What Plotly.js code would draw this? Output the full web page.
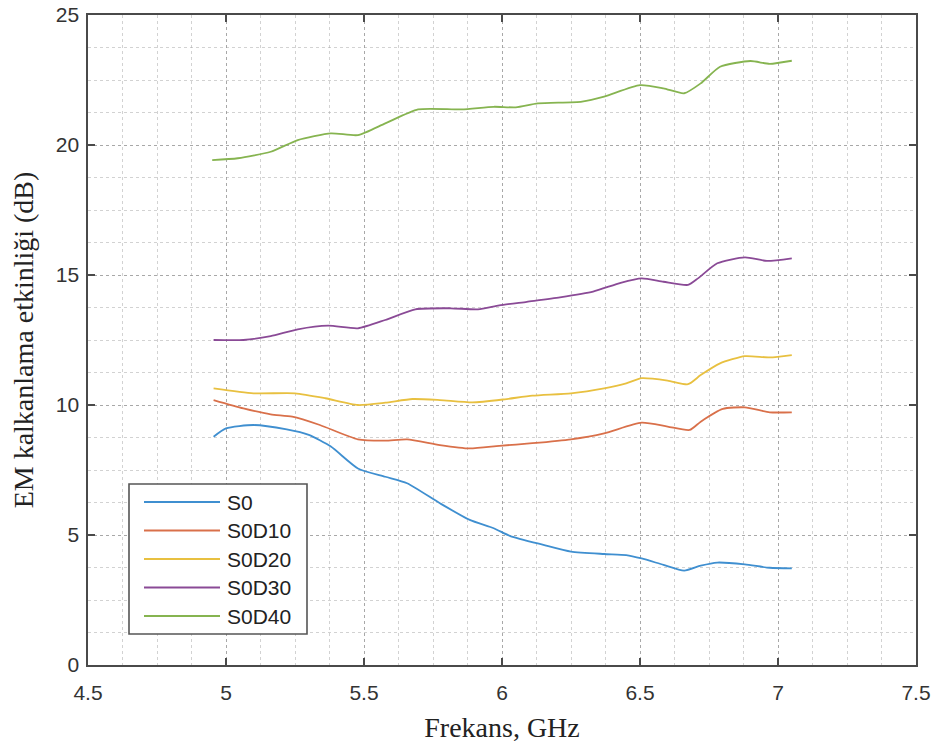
<!DOCTYPE html>
<html>
<head>
<meta charset="utf-8">
<script src="https://cdn.plot.ly/plotly-3.0.1.min.js"></script>
<style>html,body{margin:0;padding:0;background:#fff;}#chart{width:935px;height:753px;}</style>
</head>
<body>
<div id="chart"></div>
<script>
const seriesNames = ["S0", "S0D10", "S0D20", "S0D30", "S0D40"];
const seriesColors = ["#3f8fd0", "#d9704a", "#e8c040", "#8a4a96", "#86b450"];

const freqS0 = [4.955, 5.0, 5.1, 5.22, 5.3, 5.38, 5.478, 5.577, 5.656, 5.775, 5.883, 5.97, 6.03, 6.15, 6.25, 6.37, 6.45, 6.506, 6.585, 6.66, 6.72, 6.78, 6.88, 6.97, 7.05];
const valS0 = [8.78, 9.1, 9.23, 9.06, 8.85, 8.4, 7.56, 7.24, 6.99, 6.22, 5.58, 5.26, 4.96, 4.62, 4.36, 4.27, 4.23, 4.1, 3.85, 3.63, 3.82, 3.94, 3.87, 3.74, 3.72];

const freqS0D10 = [4.955, 5.063, 5.162, 5.24, 5.34, 5.478, 5.577, 5.656, 5.775, 5.883, 5.99, 6.11, 6.25, 6.37, 6.506, 6.6, 6.68, 6.72, 6.8, 6.88, 6.97, 7.05];
const valS0D10 = [10.19, 9.87, 9.64, 9.55, 9.23, 8.68, 8.63, 8.68, 8.46, 8.33, 8.43, 8.53, 8.68, 8.91, 9.32, 9.17, 9.04, 9.36, 9.85, 9.91, 9.72, 9.72];

const freqS0D20 = [4.955, 5.1, 5.25, 5.36, 5.478, 5.577, 5.676, 5.775, 5.893, 6.01, 6.11, 6.25, 6.37, 6.45, 6.506, 6.6, 6.674, 6.72, 6.79, 6.88, 6.97, 7.05];
const valS0D20 = [10.64, 10.45, 10.45, 10.26, 10.0, 10.09, 10.23, 10.19, 10.1, 10.22, 10.36, 10.45, 10.64, 10.83, 11.03, 10.94, 10.8, 11.15, 11.6, 11.88, 11.83, 11.92];

const freqS0D30 = [4.955, 5.063, 5.162, 5.26, 5.37, 5.478, 5.577, 5.686, 5.814, 5.913, 5.99, 6.09, 6.21, 6.33, 6.43, 6.506, 6.585, 6.674, 6.71, 6.78, 6.88, 6.96, 7.05];
const valS0D30 = [12.5, 12.5, 12.65, 12.91, 13.05, 12.95, 13.27, 13.68, 13.72, 13.68, 13.83, 13.97, 14.14, 14.36, 14.7, 14.87, 14.74, 14.62, 14.87, 15.45, 15.68, 15.54, 15.64];

const freqS0D40 = [4.95, 5.043, 5.162, 5.26, 5.38, 5.478, 5.577, 5.696, 5.854, 5.97, 6.05, 6.13, 6.29, 6.37, 6.5, 6.585, 6.66, 6.72, 6.79, 6.9, 6.97, 7.05];
const valS0D40 = [19.42, 19.49, 19.74, 20.19, 20.45, 20.38, 20.83, 21.37, 21.37, 21.47, 21.45, 21.6, 21.67, 21.86, 22.3, 22.18, 21.99, 22.37, 23.01, 23.23, 23.12, 23.24];

const xTicks = [4.5, 5, 5.5, 6, 6.5, 7, 7.5];
const xTickLabels = ["4.5", "5", "5.5", "6", "6.5", "7", "7.5"];
const yTicks = [0, 5, 10, 15, 20, 25];

const xs = [freqS0, freqS0D10, freqS0D20, freqS0D30, freqS0D40];
const ys = [valS0, valS0D10, valS0D20, valS0D30, valS0D40];

const W = 935, H = 753;
const M = {l: 88, r: 19, t: 15, b: 88};
const PW = W - M.l - M.r, PH = H - M.t - M.b;
const px2x = p => (p - M.l) / PW;
const py2y = p => (H - M.b - p) / PH;

const traces = seriesNames.map((n, i) => ({
  type: "scatter", mode: "lines", name: n,
  x: xs[i], y: ys[i], showlegend: false,
  line: {color: seriesColors[i], width: 1.8, shape: "spline", smoothing: 0.6}
}));

// legend (drawn in paper coordinates, MATLAB-style long sample lines)
const legBox = {x0: 129, x1: 307, y0: 484, y1: 634};
const legRowY = [502, 530.5, 559, 587.5, 616];
const shapes = [{
  type: "rect", xref: "paper", yref: "paper",
  x0: px2x(legBox.x0), x1: px2x(legBox.x1), y0: py2y(legBox.y1), y1: py2y(legBox.y0),
  line: {color: "#555", width: 1.6}, fillcolor: "#fff", layer: "above"
}];
const annotations = [];
seriesNames.forEach((n, i) => {
  shapes.push({
    type: "line", xref: "paper", yref: "paper",
    x0: px2x(144), x1: px2x(220), y0: py2y(legRowY[i]), y1: py2y(legRowY[i]),
    line: {color: seriesColors[i], width: 1.8}, layer: "above"
  });
  annotations.push({
    xref: "paper", yref: "paper", x: px2x(225), y: py2y(legRowY[i]),
    xanchor: "left", yanchor: "middle", showarrow: false, text: n,
    font: {family: "Liberation Sans, Arial, sans-serif", size: 21, color: "#222"}
  });
});

const gridCol = "rgba(140,140,140,0.6)";
const minorCol = "rgba(165,165,165,0.5)";
const axisCommon = {
  showline: true, linecolor: "#4a4a4a", linewidth: 1.6, mirror: "ticks",
  ticks: "inside", ticklen: 7, tickcolor: "#4a4a4a", tickwidth: 1.5,
  showgrid: true, gridcolor: gridCol, griddash: "dot", gridwidth: 1,
  zeroline: false,
  tickfont: {family: "Liberation Sans, Arial, sans-serif", size: 21, color: "#333"}
};

const layout = {
  width: W, height: H,
  margin: M,
  paper_bgcolor: "#fff", plot_bgcolor: "#fff",
  showlegend: false,
  shapes: shapes, annotations: annotations,
  xaxis: Object.assign({}, axisCommon, {
    range: [4.5, 7.5], tickvals: xTicks, ticktext: xTickLabels,
    ticklabelstandoff: 8,
    minor: {dtick: 0.125, tick0: 4.5, showgrid: true, gridcolor: minorCol, griddash: "dot", ticks: ""},
    title: {text: "Frekans, GHz", font: {family: "Liberation Serif, Times New Roman, serif", size: 28, color: "#222"}, standoff: 14}
  }),
  yaxis: Object.assign({}, axisCommon, {
    range: [0, 25], tickvals: yTicks,
    ticklabelstandoff: 3,
    minor: {dtick: 1.25, tick0: 0, showgrid: true, gridcolor: minorCol, griddash: "dot", ticks: ""},
    title: {text: "EM kalkanlama etkinliği (dB)", font: {family: "Liberation Serif, Times New Roman, serif", size: 28, color: "#222"}, standoff: 14}
  })
};

Plotly.newPlot("chart", traces, layout, {displayModeBar: false, staticPlot: true});
</script>
</body>
</html>
